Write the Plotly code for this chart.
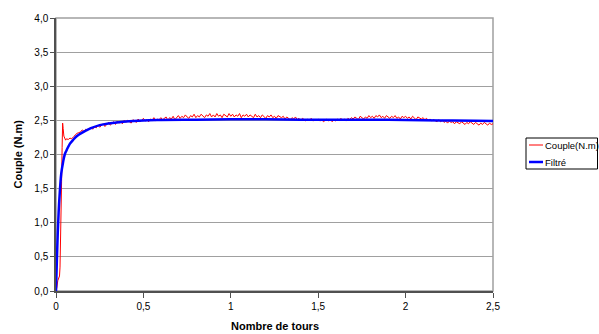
import plotly.graph_objects as go

# ---- data ----
# start-up transient (hand read)
red_x_start = [0, 0.005, 0.01, 0.015, 0.02, 0.023, 0.026, 0.029, 0.032, 0.035, 0.038,
               0.041, 0.045, 0.05, 0.055, 0.06, 0.07, 0.08, 0.09, 0.10, 0.11, 0.12, 0.13]
red_y_start = [0, 0.05, 0.15, 0.18, 0.22, 0.35, 0.65, 1.1, 1.6, 2.1, 2.46,
               2.38, 2.27, 2.22, 2.21, 2.23, 2.22, 2.24, 2.23, 2.26, 2.29, 2.31, 2.32]
# steady part, sampled every 0.01 tours from 0.14 to 2.50
red_y_steady = [
    2.33, 2.36, 2.34, 2.37, 2.35, 2.38,
    2.40, 2.37, 2.41, 2.39, 2.43, 2.40, 2.42, 2.45, 2.41, 2.44,
    2.47, 2.43, 2.46, 2.48, 2.44, 2.49, 2.46, 2.48, 2.45, 2.50,
    2.47, 2.50, 2.48, 2.46, 2.51, 2.49, 2.47, 2.52, 2.48, 2.50,
    2.53, 2.49, 2.51, 2.48, 2.52, 2.50, 2.54, 2.49, 2.52, 2.51,
    2.54, 2.51, 2.53, 2.55, 2.50, 2.54, 2.52, 2.56, 2.51, 2.54,
    2.57, 2.53, 2.56, 2.54, 2.58, 2.55, 2.53, 2.57, 2.55, 2.59,
    2.54, 2.57, 2.55, 2.59, 2.56, 2.54, 2.58, 2.56, 2.60, 2.55,
    2.58, 2.55, 2.60, 2.56, 2.58, 2.54, 2.59, 2.57, 2.55, 2.60,
    2.56, 2.59, 2.55, 2.58, 2.56, 2.60, 2.54, 2.58, 2.56, 2.59,
    2.55, 2.58, 2.56, 2.54, 2.59, 2.55, 2.57, 2.54, 2.58, 2.56,
    2.53, 2.57, 2.55, 2.58, 2.54, 2.56, 2.53, 2.57, 2.55, 2.54,
    2.56, 2.52, 2.55, 2.53, 2.51, 2.54, 2.52, 2.55, 2.51, 2.53,
    2.50, 2.53, 2.51, 2.49, 2.52, 2.50, 2.53, 2.49, 2.51, 2.50,
    2.52, 2.49, 2.51, 2.48, 2.50, 2.52, 2.49, 2.51, 2.48, 2.51,
    2.49, 2.52, 2.50, 2.53, 2.50, 2.52, 2.49, 2.53, 2.51, 2.54,
    2.52, 2.55, 2.53, 2.51, 2.56, 2.54, 2.52, 2.55, 2.53, 2.57,
    2.54, 2.56, 2.53, 2.57, 2.55, 2.58, 2.54, 2.56, 2.53, 2.57,
    2.55, 2.53, 2.56, 2.54, 2.57, 2.53, 2.55, 2.52, 2.56, 2.54,
    2.56, 2.53, 2.55, 2.52, 2.56, 2.54, 2.51, 2.55, 2.53, 2.52,
    2.54, 2.51, 2.53, 2.50, 2.52, 2.49, 2.51, 2.50, 2.48, 2.51,
    2.48, 2.50, 2.47, 2.49, 2.46, 2.49, 2.47, 2.48, 2.45, 2.48,
    2.47, 2.45, 2.48, 2.46, 2.44, 2.47, 2.45, 2.48, 2.46, 2.44,
    2.47, 2.45, 2.43, 2.46, 2.44, 2.47, 2.45, 2.43, 2.46, 2.44,
    2.45,
]
red_x_steady = [round(0.14 + 0.01 * i, 2) for i in range(len(red_y_steady))]

red_x = red_x_start + red_x_steady
red_y = red_y_start + red_y_steady

blue_x = [0, 0.005, 0.01, 0.015, 0.02, 0.03, 0.04, 0.05, 0.06, 0.08, 0.10, 0.12, 0.15,
          0.2, 0.25, 0.3, 0.4, 0.5, 0.6, 0.8, 1.0, 1.2, 1.4, 1.6, 1.8, 2.0, 2.2, 2.4, 2.5]
blue_y = [0, 0.45, 0.85, 1.15, 1.38, 1.72, 1.88, 2.0, 2.06, 2.16, 2.22, 2.27, 2.32,
          2.385, 2.43, 2.455, 2.485, 2.5, 2.505, 2.51, 2.515, 2.515, 2.51, 2.51, 2.51,
          2.505, 2.5, 2.495, 2.49]

series_names = ["Couple(N.m)", "Filtré"]
x_title = "Nombre de tours"
y_title = "Couple (N.m)"

FONT = "Liberation Sans, Arial, sans-serif"

fig = go.Figure()
fig.add_trace(go.Scatter(x=red_x, y=red_y, mode="lines", name=series_names[0],
                         line=dict(color="#FF0000", width=1)))
fig.add_trace(go.Scatter(x=blue_x, y=blue_y, mode="lines", name=series_names[1],
                         line=dict(color="#0000FF", width=2.5, shape="spline")))

W, H = 599, 334
L, R, T, B = 56, 493, 18, 291
pw, ph = R - L, B - T

def px(xs):
    return (xs - L) / pw

def py(ys):
    return (B - ys) / ph

shapes = [
    dict(type="rect", xref="paper", yref="paper", x0=0, x1=1, y0=0, y1=1,
         line=dict(color="#A0A0A0", width=1.5), layer="below"),
    dict(type="rect", xref="paper", yref="paper", x0=px(526), x1=px(597.5),
         y0=py(169), y1=py(138), line=dict(color="#000000", width=1),
         fillcolor="white"),
    dict(type="line", xref="paper", yref="paper", x0=px(529), x1=px(543),
         y0=py(145), y1=py(145), line=dict(color="#FF0000", width=1)),
    dict(type="line", xref="paper", yref="paper", x0=px(529), x1=px(543),
         y0=py(162), y1=py(162), line=dict(color="#0000FF", width=2.5)),
]

annotations = [
    dict(text=series_names[0], xref="paper", yref="paper", x=px(543), y=py(145),
         xanchor="left", yanchor="middle", showarrow=False,
         font=dict(family=FONT, size=9.5, color="#000")),
    dict(text=series_names[1], xref="paper", yref="paper", x=px(543), y=py(162),
         xanchor="left", yanchor="middle", showarrow=False,
         font=dict(family=FONT, size=9.5, color="#000")),
    dict(text="<b>" + x_title + "</b>", xref="paper", yref="paper", x=0.5, y=py(326),
         xanchor="center", yanchor="middle", showarrow=False,
         font=dict(family=FONT, size=11, color="#000")),
    dict(text="<b>" + y_title + "</b>", xref="paper", yref="paper", x=px(17), y=0.5,
         xanchor="center", yanchor="middle", showarrow=False, textangle=-90,
         font=dict(family=FONT, size=11, color="#000")),
]

fig.update_layout(
    width=W, height=H,
    margin=dict(l=L, r=W - R, t=T, b=H - B, pad=0),
    paper_bgcolor="white", plot_bgcolor="white",
    showlegend=False,
    separators=", ",
    font=dict(family=FONT, size=10, color="#000"),
    shapes=shapes, annotations=annotations,
)
fig.update_xaxes(range=[0, 2.5], dtick=0.5, tick0=0, showgrid=False, zeroline=False,
                 showline=True, linecolor="#505050", linewidth=1.5,
                 ticks="outside", ticklen=5, tickcolor="#505050", tickwidth=1,
                 tickfont=dict(family=FONT, size=10, color="#000"))
fig.update_yaxes(range=[0, 4], dtick=0.5, tick0=0, tickformat=".1f",
                 showgrid=True, gridcolor="#A0A0A0", gridwidth=1, zeroline=False,
                 showline=True, linecolor="#505050", linewidth=1.5,
                 ticks="outside", ticklen=4, tickcolor="#505050", tickwidth=1,
                 tickfont=dict(family=FONT, size=10, color="#000"))

fig.write_html(
    "out.html",
    config={"displayModeBar": False},
    post_script="document.body.style.margin='0';document.body.style.overflow='hidden';",
)
